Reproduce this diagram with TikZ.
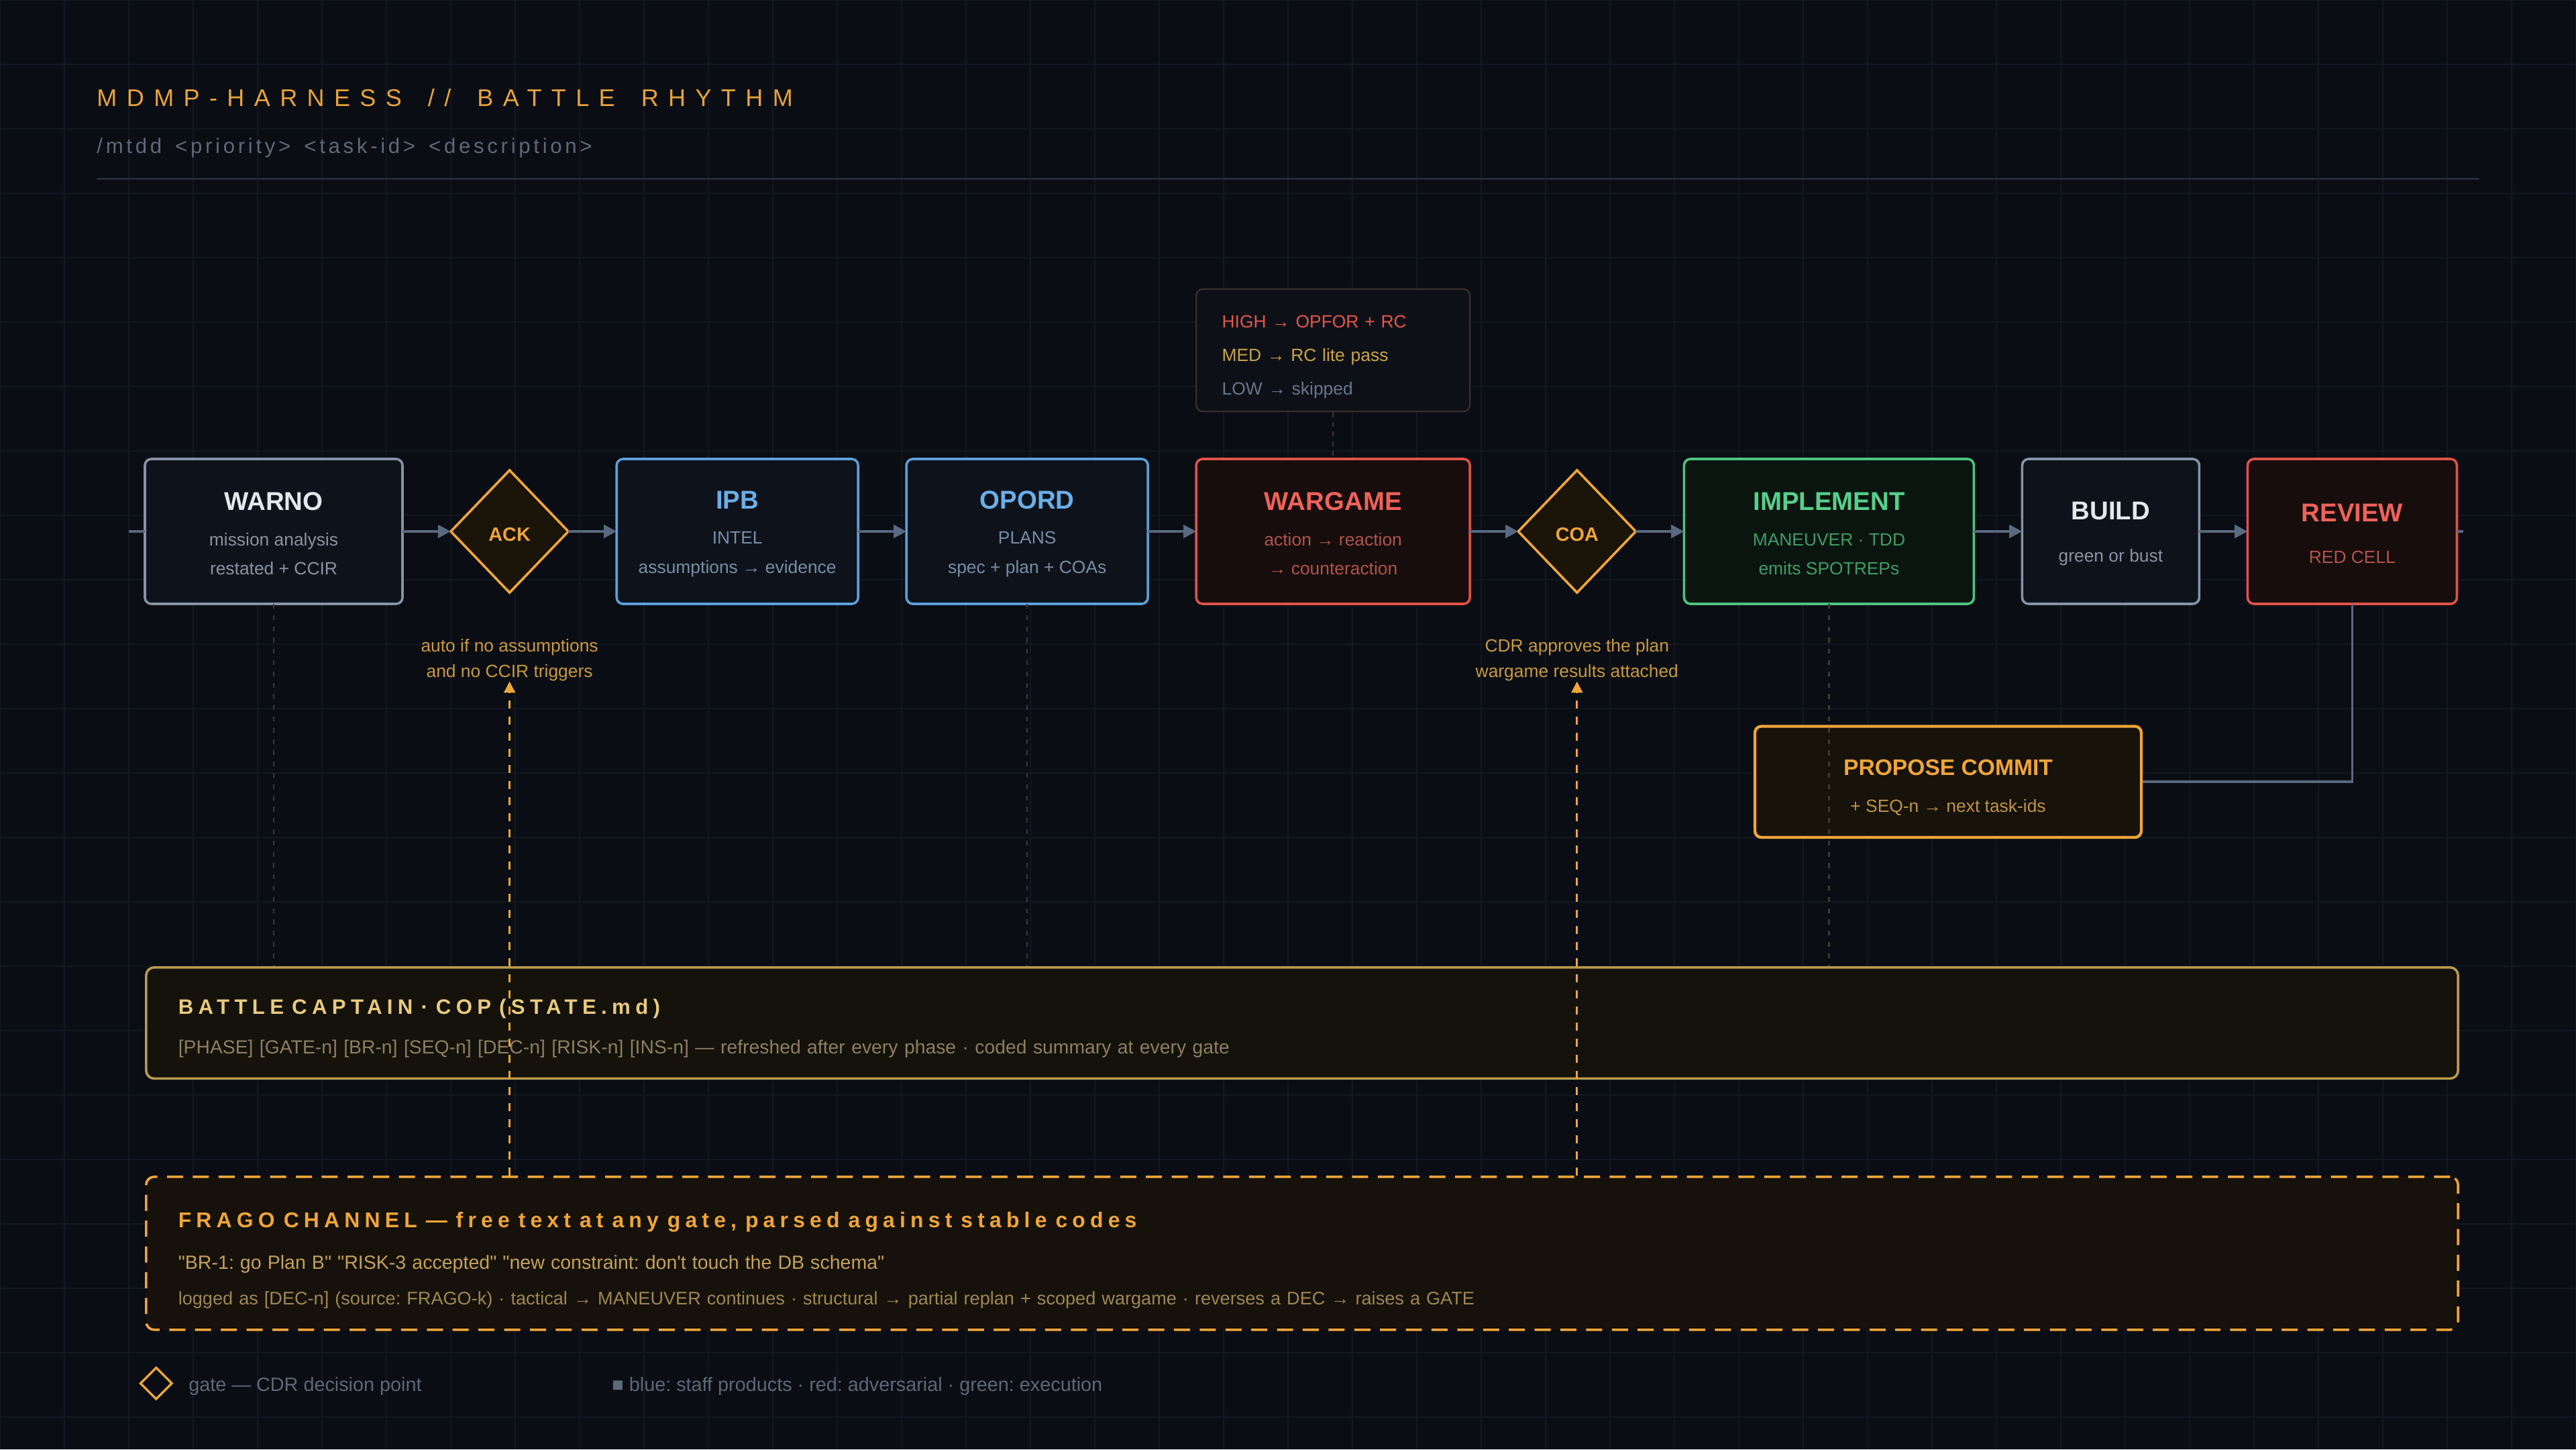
\documentclass[tikz,border=0pt]{standalone}
\usepackage{fontspec}
\setmainfont{Liberation Sans}
\newfontfamily\headfont[LetterSpace=40,WordSpace=1.6]{Liberation Sans}
\newfontfamily\cmdfont[LetterSpace=15,WordSpace=1.5]{Liberation Sans}
\newfontfamily\capfont[LetterSpace=23.5]{Liberation Sans Bold}
\newfontfamily\fragofont[LetterSpace=22.5]{Liberation Sans Bold}
\newfontfamily\quotefont{Liberation Sans}
\usepackage{tikz}
\usetikzlibrary{arrows.meta,positioning,shapes.geometric}
\frenchspacing

\definecolor{bgcol}{HTML}{0A0D13}
\definecolor{gridcol}{HTML}{121722}
\definecolor{rulecol}{HTML}{232B38}
\definecolor{accent}{HTML}{E8A33D}
\definecolor{muted}{HTML}{5F6878}
\definecolor{panel}{HTML}{0E131B}
\definecolor{greybd}{HTML}{8792A6}
\definecolor{greyhd}{HTML}{E4E7EC}
\definecolor{greytx}{HTML}{8A93A2}
\definecolor{bluebd}{HTML}{5B9FD9}
\definecolor{bluehd}{HTML}{6BAEE8}
\definecolor{bluetx}{HTML}{7A8DA6}
\definecolor{redbd}{HTML}{E0524A}
\definecolor{redfill}{HTML}{160D0C}
\definecolor{redhd}{HTML}{EE625A}
\definecolor{redtx}{HTML}{B0544C}
\definecolor{greenbd}{HTML}{4CC47F}
\definecolor{greenfill}{HTML}{0B150F}
\definecolor{greenhd}{HTML}{55D08C}
\definecolor{greentx}{HTML}{3E9D67}
\definecolor{gateor}{HTML}{EFA53A}
\definecolor{gatefill}{HTML}{1A1409}
\definecolor{notetx}{HTML}{C8993F}
\definecolor{flowcol}{HTML}{5A6980}
\definecolor{riskbd}{HTML}{3A2C2A}
\definecolor{riskfill}{HTML}{0D1117}
\definecolor{riskhi}{HTML}{E5554C}
\definecolor{riskmed}{HTML}{CCA348}
\definecolor{risklow}{HTML}{69758C}
\definecolor{riskline}{HTML}{4A3430}
\definecolor{commitfill}{HTML}{17120A}
\definecolor{committx}{HTML}{BE9446}
\definecolor{capbd}{HTML}{B99B4E}
\definecolor{capfill}{HTML}{14120B}
\definecolor{caphd}{HTML}{E8CB7E}
\definecolor{captx}{HTML}{8D8062}
\definecolor{fragofill}{HTML}{16110A}
\definecolor{fragotx}{HTML}{C3A25B}
\definecolor{fragolog}{HTML}{9E8853}
\definecolor{tracecol}{HTML}{3E3A2C}

\newcommand\stagehd[2]{{\fontsize{16}{19}\selectfont\bfseries\color{#1}\rule{0pt}{14pt}#2}}

\begin{document}
\begin{tikzpicture}[
    x=1pt, y=-1pt,
    node distance=30pt,
    stage/.style={draw, rounded corners=4pt, line width=1.5pt, align=center,
                  inner sep=0pt, outer sep=0pt, minimum height=90pt,
                  font=\fontsize{11}{18}\selectfont},
    neutral/.style={stage, draw=greybd, fill=panel, text=greytx},
    staff/.style={stage, draw=bluebd, fill=panel, text=bluetx, minimum width=150pt},
    adversary/.style={stage, draw=redbd, fill=redfill, text=redtx},
    execution/.style={stage, draw=greenbd, fill=greenfill, text=greentx},
    gate/.style={diamond, draw=gateor, fill=gatefill, line width=1.5pt,
                 minimum width=73pt, minimum height=76pt, inner sep=0pt, outer sep=0pt,
                 text height=12pt, text depth=0pt,
                 text=gateor, font=\fontsize{12}{14}\selectfont\bfseries},
    gatenote/.style={align=center, inner sep=0pt, text=notetx,
                     font=\fontsize{11}{16}\selectfont},
    lane/.style={draw, rounded corners=5pt, line width=1.5pt, anchor=north west,
                 minimum width=1436pt, text width=1396pt, inner xsep=20pt,
                 inner ysep=0pt, align=left},
    keytext/.style={inner sep=0pt, text=muted, font=\fontsize{12}{14}\selectfont},
    flow/.style={-{Triangle[length=8pt,width=8pt]}, line width=1.8pt, draw=flowcol},
    spine/.style={line width=1.8pt, draw=flowcol},
    trace/.style={draw=tracecol, line width=1pt, dash pattern=on 3pt off 4pt},
    override/.style={-{Triangle[length=7pt,width=7pt]}, draw=gateor, line width=1.2pt,
                     dash pattern=on 5pt off 5pt}
]
% canvas + faint grid
\fill[bgcol] (0,0) rectangle (1600,900);
\useasboundingbox (0,0) rectangle (1600,900);
\foreach \gx in {0,40,...,1600} \draw[gridcol, line width=0.6pt] (\gx,0) -- (\gx,900);
\foreach \gy in {0,40,...,880} \draw[gridcol, line width=0.6pt] (0,\gy) -- (1600,\gy);

% header
\node[anchor=base west, inner sep=0pt, text=accent, font=\headfont\fontsize{15}{18}\selectfont]
    (title) at (60,66) {MDMP-HARNESS // BATTLE RHYTHM};
\node[anchor=base west, inner sep=0pt, text=muted, font=\cmdfont\fontsize{13}{16}\selectfont]
    (usage) at (60,95) {/mtdd <priority> <task-id> <description>};
\draw[rulecol, line width=1.2pt] (60,111) -- (1540,111);

% phase row
\node[neutral, minimum width=160pt, anchor=north west] (warno) at (90,285)
    {\stagehd{greyhd}{WARNO}\\[4pt] mission analysis\\ restated + CCIR};
\node[gate, right=of warno] (ack) {ACK};
\node[staff, right=of ack] (ipb)
    {\stagehd{bluehd}{IPB}\\[4pt] INTEL\\ assumptions → evidence};
\node[staff, right=of ipb] (opord)
    {\stagehd{bluehd}{OPORD}\\[4pt] PLANS\\ spec + plan + COAs};
\node[adversary, minimum width=170pt, right=of opord] (wargame)
    {\stagehd{redhd}{WARGAME}\\[4pt] action → reaction\\ → counteraction};
\node[gate, right=of wargame] (coa) {COA};
\node[execution, minimum width=180pt, right=of coa] (implement)
    {\stagehd{greenhd}{IMPLEMENT}\\[4pt] MANEUVER · TDD\\ emits SPOTREPs};
\node[neutral, minimum width=110pt, right=of implement] (build)
    {\stagehd{greyhd}{BUILD}\\[8pt] green or bust};
\node[adversary, minimum width=130pt, right=of build] (review)
    {\stagehd{redhd}{REVIEW}\\[8pt] RED CELL};

\coordinate (spinein) at (80,330);
\coordinate (spineout) at (1530,330);

% risk tiers over the wargame
\node[draw=riskbd, fill=riskfill, rounded corners=4pt, line width=1pt,
      minimum width=170pt, minimum height=76pt, text width=138pt, inner xsep=16pt,
      align=left, font=\fontsize{11}{21}\selectfont, above=29pt of wargame] (risk)
    {{\color{riskhi}\rule{0pt}{16pt}HIGH → OPFOR + RC}\\ {\color{riskmed}MED → RC lite pass}\\
     {\color{risklow}LOW → skipped}};

% gate conditions
\node[gatenote, below=28.5pt of ack] (acknote) {auto if no assumptions\\and no CCIR triggers};
\node[gatenote, below=28.5pt of coa] (coanote) {CDR approves the plan\\wargame results attached};

\node[draw=gateor, fill=commitfill, rounded corners=4pt, line width=1.8pt,
      minimum width=240pt, minimum height=69pt, align=center, inner sep=0pt,
      text=committx, font=\fontsize{11}{18}\selectfont] (commit) at (1210,485.5)
    {{\fontsize{14}{17}\selectfont\bfseries\color{gateor}\rule{0pt}{17pt}PROPOSE COMMIT}\\[5pt]
     + SEQ-n → next task-ids};

% state + override lanes
\node[lane, draw=capbd, fill=capfill, minimum height=69pt,
      font=\fontsize{11.8}{16}\selectfont] (bcap) at (90,600)
    {{\capfont\fontsize{13}{16}\selectfont\spaceskip=5pt\relax\color{caphd}\rule{0pt}{16pt}BATTLE CAPTAIN · COP (STATE.md)}\\[8.5pt]
     {\color{captx}[PHASE] [GATE-n] [BR-n] [SEQ-n] [DEC-n] [RISK-n] [INS-n] — refreshed after every phase · coded summary at every gate}};
\node[lane, draw=gateor, fill=fragofill, dash pattern=on 10pt off 6pt, minimum height=95pt,
      font=\fontsize{11.3}{22}\selectfont] (frago) at (90,730)
    {{\fragofont\fontsize{13.3}{16}\selectfont\spaceskip=5.4pt\relax\color{gateor}\rule{0pt}{18pt}FRAGO CHANNEL — free text at any gate, parsed against stable codes}\\[4pt]
     {\quotefont\fontsize{11.9}{14}\selectfont\color{fragotx}"BR-1: go Plan B" "RISK-3 accepted" "new constraint: don't touch the DB schema"}\\
     {\color{fragolog}logged as [DEC-n] (source: FRAGO-k) · tactical → MANEUVER continues · structural → partial replan + scoped wargame · reverses a DEC → raises a GATE}};

% connectors
\draw[spine] (spinein) -- (warno);
\draw[flow] (warno) -- (ack);
\draw[flow] (ack) -- (ipb);
\draw[flow] (ipb) -- (opord);
\draw[flow] (opord) -- (wargame);
\draw[flow] (wargame) -- (coa);
\draw[flow] (coa) -- (implement);
\draw[flow] (implement) -- (build);
\draw[flow] (build) -- (review);
\draw[spine] (review) -- (spineout);
\draw[riskline, line width=1pt, dash pattern=on 3pt off 3pt] (risk) -- (wargame);
\draw[flowcol, line width=1.5pt] (review.south) |- (commit.east);

\draw[trace] (warno) -- (warno |- bcap.north);
\draw[trace] (opord) -- (opord |- bcap.north);
\draw[trace] (implement) -- (implement |- bcap.north);

\draw[override] (acknote |- frago.north) -- (acknote);
\draw[override] (coanote |- frago.north) -- (coanote);

% key
\node[diamond, draw=gateor, line width=1.4pt, minimum width=20pt, minimum height=20pt,
      inner sep=0pt] (keygate) at (97,859) {};
\node[keytext, anchor=west] (keygatetext) at (117,861) {gate — CDR decision point};
\node[keytext, anchor=west] (keycolours) at (380,861)
    {■ blue: staff products · red: adversarial · green: execution};
\end{tikzpicture}
\end{document}
